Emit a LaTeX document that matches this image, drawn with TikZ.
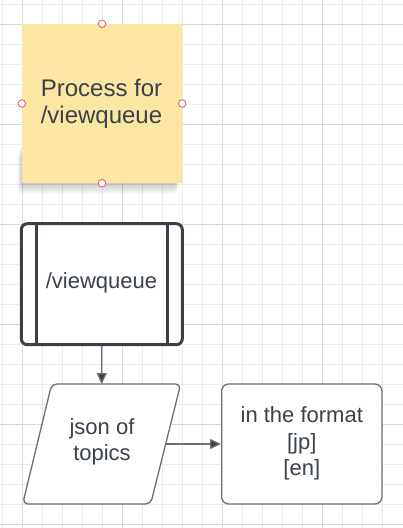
\documentclass[tikz,border=0pt]{standalone}
\usepackage{fontspec}
\setmainfont{Liberation Sans}
\usetikzlibrary{arrows.meta}
\definecolor{txt}{HTML}{3A414A}
\definecolor{edge}{HTML}{6B6E72}
\definecolor{sticky}{HTML}{FCE6A3}
\definecolor{gridminor}{HTML}{EBEBEB}
\definecolor{gridmajor}{HTML}{D8D8D8}
\definecolor{handle}{HTML}{E0646E}
\tikzset{
  x=1pt, y=-1pt,
  lbl/.style={text=txt, align=center, font=\fontsize{22}{26.4}\selectfont},
  thinbox/.style={draw=edge, line width=1.3pt, fill=white},
  conn/.style={draw=edge, line width=1.3pt, -{Triangle[length=11pt,width=10pt,fill=txt]}},
  hdl/.style={circle, draw=handle, fill=white, line width=0.9pt, inner sep=0pt, minimum size=7.5pt}
}
\begin{document}
\begin{tikzpicture}
\useasboundingbox (0,0) rectangle (403,528);
\fill[white] (0,0) rectangle (403,528);
% grid
\foreach \gx in {2.7,22.7,...,402} \draw[gridminor, line width=0.8pt] (\gx,0) -- (\gx,528);
\foreach \gy in {4.3,24.3,...,527} \draw[gridminor, line width=0.8pt] (0,\gy) -- (403,\gy);
\foreach \gx in {22.7,122.7,222.7,322.7} \draw[gridmajor, line width=0.9pt] (\gx,0) -- (\gx,528);
\foreach \gy in {24.3,124.3,224.3,324.3,424.3,524.3} \draw[gridmajor, line width=0.9pt] (0,\gy) -- (403,\gy);
% sticky shadow
\foreach \s in {1,...,10} \fill[black, opacity=0.018, rounded corners=4pt] (22-\s*0.45,140+\s*1.5) rectangle (176+\s*0.2,184+\s*1.0);
% sticky note
\node[fill=sticky, minimum width=160pt, minimum height=159pt, inner sep=0pt] (note) at (102,103.5) {};
\node[text=txt, align=center, font=\fontsize{24}{27.5}\selectfont] (notetext) at (101.5,103.8) {Process for\\/viewqueue};
\node[hdl] (h1) at (note.north) {};
\node[hdl] (h2) at (note.south) {};
\node[hdl] (h3) at (note.west) {};
\node[hdl] (h4) at (note.east) {};
% predefined process
\node[draw=txt, line width=3pt, rounded corners=6pt, fill=white, minimum width=161pt, minimum height=121pt, inner sep=0pt] (proc) at (101.8,284.2) {};
\draw[txt, line width=3pt] ([xshift=16.5pt]proc.north west) -- ([xshift=16.5pt]proc.south west);
\draw[txt, line width=3pt] ([xshift=-16.5pt]proc.north east) -- ([xshift=-16.5pt]proc.south east);
\node[text=txt, font=\fontsize{22}{25}\selectfont] (proctext) at (101.5,282.5) {/viewqueue};
% parallelogram
\draw[thinbox, rounded corners=5pt] (51.7,384) -- (180.7,384) -- (150.7,504) -- (22.7,504) -- cycle;
\coordinate (jsontop) at (101.7,384);
\coordinate (jsonright) at (165.7,444);
\node[lbl, font=\fontsize{22}{25.3}\selectfont] (json) at (102,441.8) {json of\\topics};
% rounded rectangle
\node[thinbox, rounded corners=7pt, minimum width=160.3pt, minimum height=120pt, inner sep=0pt] (fmt) at (301.8,444) {};
\node[lbl] (fmttext) at (301.8,443.4) {in the format\\{}[jp]\\{}[en]};
% connectors
\draw[conn] (proc.south) -- (jsontop);
\draw[conn] (jsonright) -- (fmt.west);
\end{tikzpicture}
\end{document}
